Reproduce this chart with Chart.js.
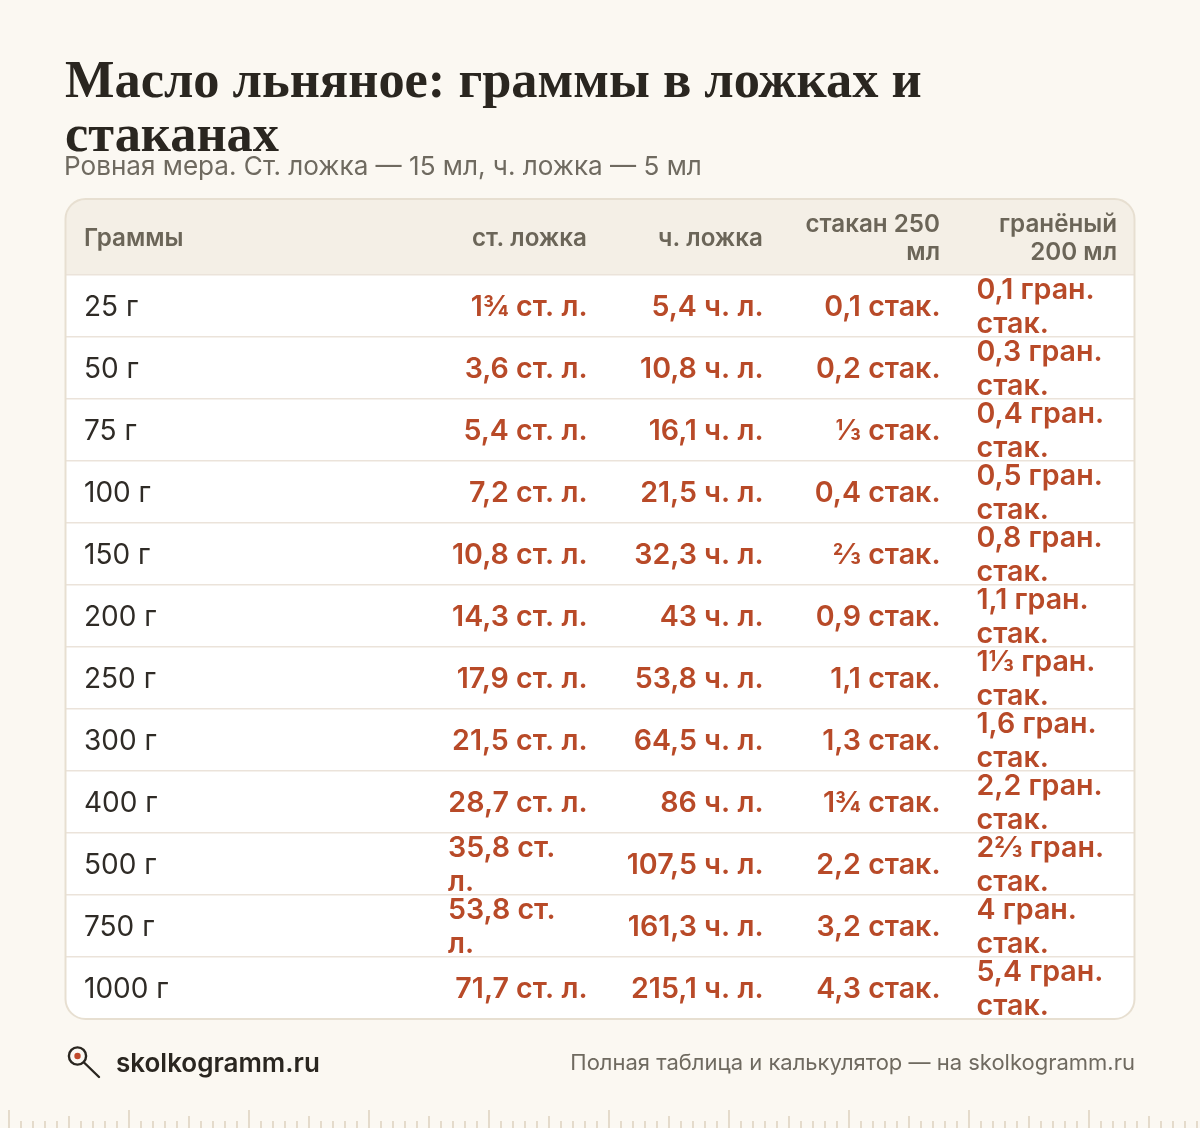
<!DOCTYPE html>
<html lang="ru">
<head>
<meta charset="utf-8">
<title>Масло льняное: граммы в ложках и стаканах</title>
<script src="https://cdn.jsdelivr.net/npm/chart.js@4"></script>
<style>
  html, body { margin: 0; padding: 0; background: #fbf8f2; }
  body { width: 1200px; height: 1128px; position: relative; overflow: hidden; font-family: Inter, sans-serif; }
  canvas { position: absolute; left: 0; top: 0; }
  .title { position: absolute; left: 65px; top: 52px; margin: 0; font: 700 52.4px/54px "Liberation Serif", serif; color: #2a2620; white-space: nowrap; }
  .sub { position: absolute; left: 64px; top: 150px; font-size: 26.1px; line-height: 32px; color: #6f6a60; white-space: nowrap; }
  .brand { position: absolute; left: 116px; top: 1046px; font-size: 26px; line-height: 34px; font-weight: 600; color: #2a2620; }
  .note { position: absolute; right: 65px; top: 1047px; font-size: 22px; line-height: 30px; color: #6f6a60; white-space: nowrap; }
</style>
</head>
<body>
<canvas id="table" width="1200" height="1128"></canvas>
<h1 class="title">Масло льняное: граммы в ложках и<br>стаканах</h1>
<div class="sub">Ровная мера. Ст. ложка — 15 мл, ч. ложка — 5 мл</div>
<div class="brand">skolkogramm.ru</div>
<div class="note">Полная таблица и калькулятор — на skolkogramm.ru</div>
<script>
const columns = ["Граммы", "ст. ложка", "ч. ложка", "стакан 250\nмл", "гранёный\n200 мл"]
const grams = ["25 г", "50 г", "75 г", "100 г", "150 г", "200 г", "250 г", "300 г", "400 г", "500 г", "750 г", "1000 г"]
const tablespoons = ["1¾ ст. л.", "3,6 ст. л.", "5,4 ст. л.", "7,2 ст. л.", "10,8 ст. л.", "14,3 ст. л.", "17,9 ст. л.", "21,5 ст. л.", "28,7 ст. л.", "35,8 ст.\nл.", "53,8 ст.\nл.", "71,7 ст. л."]
const teaspoons = ["5,4 ч. л.", "10,8 ч. л.", "16,1 ч. л.", "21,5 ч. л.", "32,3 ч. л.", "43 ч. л.", "53,8 ч. л.", "64,5 ч. л.", "86 ч. л.", "107,5 ч. л.", "161,3 ч. л.", "215,1 ч. л."]
const glass250 = ["0,1 стак.", "0,2 стак.", "⅓ стак.", "0,4 стак.", "⅔ стак.", "0,9 стак.", "1,1 стак.", "1,3 стак.", "1¾ стак.", "2,2 стак.", "3,2 стак.", "4,3 стак."]
const glass200 = ["0,1 гран.\nстак.", "0,3 гран.\nстак.", "0,4 гран.\nстак.", "0,5 гран.\nстак.", "0,8 гран.\nстак.", "1,1 гран.\nстак.", "1⅓ гран.\nстак.", "1,6 гран.\nстак.", "2,2 гран.\nстак.", "2⅔ гран.\nстак.", "4 гран.\nстак.", "5,4 гран.\nстак."]

const cells = [grams, tablespoons, teaspoons, glass250, glass200]

// column anchors on the x scale, same units as the px width of the table
const colRight = [18, 521, 697, 874, 1051]
const colLeft = [18, 382, 0, 0, 910.5]

const box = { left: 65.5, right: 1134.5, top: 199, mid: 275, bottom: 1019, r: 20 }

function roundPath(c) {
    c.beginPath()
    c.roundRect(box.left, box.top, box.right - box.left, box.bottom - box.top, box.r)
}

const tablePlugin = {
    id: "tablePlugin",
    beforeDraw(chart) {
        const c = chart.ctx
        c.save()
        roundPath(c)
        c.fillStyle = "#ffffff"
        c.fill()
        c.clip()
        c.fillStyle = "#f4efe6"
        c.fillRect(box.left, box.top, box.right - box.left, box.mid - box.top)
        c.restore()
    },
    afterDraw(chart) {
        const c = chart.ctx
        const xs = chart.scales.x
        c.save()
        roundPath(c)
        c.strokeStyle = "#e7dfd1"
        c.lineWidth = 2
        c.stroke()

        // header row
        c.font = "600 24.2px Inter"
        c.fillStyle = "#6b6558"
        c.textBaseline = "middle"
        columns.forEach((name, i) => {
            const lines = name.split("\n")
            const x = xs.getPixelForValue(colRight[i])
            c.textAlign = i == 0 ? "left" : "right"
            lines.forEach((t, l) => {
                c.fillText(t, x, 238.5 + (l - (lines.length - 1) / 2) * 28.5)
            })
        })

        // body cells sit on the points of their dataset
        cells.forEach((col, i) => {
            const pts = chart.getDatasetMeta(i).data
            c.font = i == 0 ? "400 28px Inter" : "600 28.6px Inter"
            c.fillStyle = i == 0 ? "#2f2b26" : "#b84a28"
            col.forEach((text, r) => {
                const lines = text.split("\n")
                const y = pts[r].y + 1.5
                if (lines.length == 1) {
                    c.textAlign = i == 0 ? "left" : "right"
                    c.fillText(text, pts[r].x + (i == 0 ? 0 : 0.5), y)
                } else {
                    c.textAlign = "left"
                    const x = xs.getPixelForValue(colLeft[i])
                    c.fillText(lines[0], x, y - 17)
                    c.fillText(lines[1], x, y + 17)
                }
            })
        })

        // logo
        c.strokeStyle = "#2a2620"
        c.lineWidth = 2.4
        c.lineCap = "round"
        c.beginPath()
        c.arc(77.5, 1056, 8.6, 0, Math.PI * 2)
        c.stroke()
        c.beginPath()
        c.moveTo(84, 1062.5)
        c.lineTo(99, 1077)
        c.stroke()
        c.fillStyle = "#c0492b"
        c.beginPath()
        c.arc(77.5, 1056, 3.2, 0, Math.PI * 2)
        c.fill()

        // ruler at the bottom
        c.strokeStyle = "#d8cbb6"
        c.lineWidth = 1.3
        c.lineCap = "butt"
        for (let n = 0; n <= 100; n++) {
            const x = 9 + n * 12
            const top = n % 10 == 0 ? 1110 : n % 5 == 0 ? 1116 : 1121
            c.beginPath()
            c.moveTo(x, top)
            c.lineTo(x, 1128)
            c.stroke()
        }
        c.restore()
    }
}

const ctx = document.querySelector("#table").getContext("2d")

const tableChart = new Chart(ctx, {
    type: "scatter",
    data: {
        datasets: cells.map((col, i) => ({
            label: columns[i],
            data: grams.map(g => ({ x: colRight[i], y: g })),
            pointRadius: 0
        }))
    },
    options: {
        responsive: false,
        animation: false,
        events: [],
        layout: { padding: { left: 66, right: 66, top: 275, bottom: 109 } },
        plugins: { legend: { display: false }, tooltip: { enabled: false } },
        scales: {
            x: { type: "linear", min: 0, max: 1068, display: false },
            y: {
                type: "category",
                labels: grams,
                offset: true,
                grid: {
                    offset: true,
                    drawTicks: false,
                    // the line under the last row is the table border
                    color: c => c.tick ? "#ebe3da" : "transparent",
                    lineWidth: 1.5
                },
                border: { display: false },
                ticks: { display: false }
            }
        }
    },
    plugins: [tablePlugin]
})
</script>
</body>
</html>
